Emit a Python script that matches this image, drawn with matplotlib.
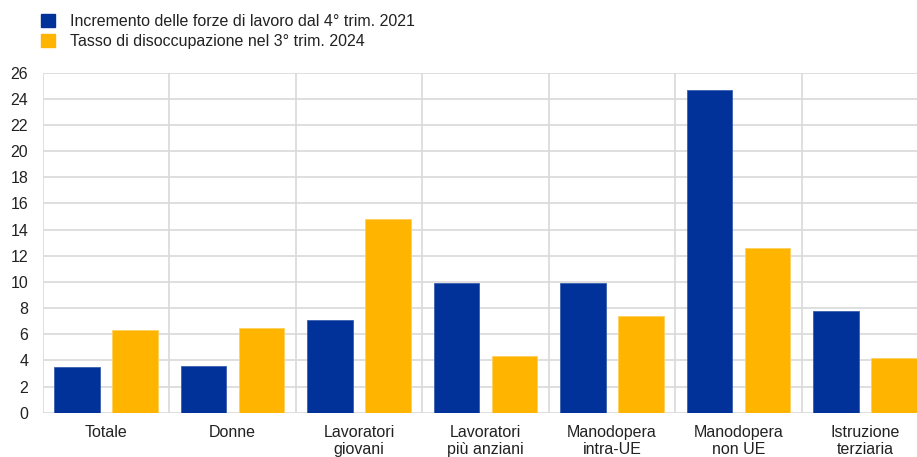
import matplotlib
matplotlib.use("Agg")
import matplotlib.pyplot as plt
import numpy as np
from matplotlib.patches import Patch

plt.rcParams["font.family"] = ["Liberation Sans", "DejaVu Sans"]

categories = ["Totale", "Donne", "Lavoratori\ngiovani", "Lavoratori\npiù anziani",
              "Manodopera\nintra-UE", "Manodopera\nnon UE", "Istruzione\nterziaria"]
labour_force_growth = [3.5, 3.6, 7.1, 9.9, 9.9, 24.7, 7.8]
unemployment_rate = [6.3, 6.5, 14.8, 4.3, 7.4, 12.6, 4.2]
series_names = ["Incremento delle forze di lavoro dal 4° trim. 2021",
                "Tasso di disoccupazione nel 3° trim. 2024"]
yticks = list(range(0, 27, 2))

BLUE = "#003299"
YELLOW = "#FFB400"
GRID = "#d9d9d9"
TEXT = "#222222"

fig = plt.figure(figsize=(9.17, 4.57), dpi=100)
ax = fig.add_axes([0.0466, 0.097, 0.9657, 0.744])

x = np.arange(len(categories))
w = 0.36
ax.bar(x - 0.23, labour_force_growth, width=w, color=BLUE, edgecolor="#3a5fb0",
       linewidth=0.6, zorder=3)
ax.bar(x + 0.23, unemployment_rate, width=w, color=YELLOW, edgecolor="#ffd060",
       linewidth=0.6, zorder=3)

ax.set_xlim(-0.5, len(categories) - 0.5)
ax.set_ylim(0, 26)
ax.set_yticks(yticks)
ax.set_yticklabels([str(t) for t in yticks], fontsize=11.5, color=TEXT)
ax.set_xticks(x)
ax.set_xticklabels(categories, fontsize=11.5, color=TEXT, linespacing=1.15)
ax.tick_params(axis="both", length=0)
ax.tick_params(axis="y", pad=10.5)
ax.tick_params(axis="x", pad=9)

for s in ax.spines.values():
    s.set_visible(False)
for t in yticks:
    ax.axhline(t, color=GRID, linewidth=1.2, zorder=1)
for b in np.arange(-0.5, len(categories), 1.0):
    ax.axvline(b, color=GRID, linewidth=1.2, zorder=1)

handles = [Patch(facecolor=BLUE, edgecolor=BLUE), Patch(facecolor=YELLOW, edgecolor=YELLOW)]
fig.legend(handles, series_names, loc="upper left", bbox_to_anchor=(0.029, 1.0),
           frameon=False, fontsize=11.5, handlelength=0.85, handleheight=0.85,
           handletextpad=0.95, labelspacing=0.3, labelcolor=TEXT)

fig.savefig("out.png", dpi=100)
